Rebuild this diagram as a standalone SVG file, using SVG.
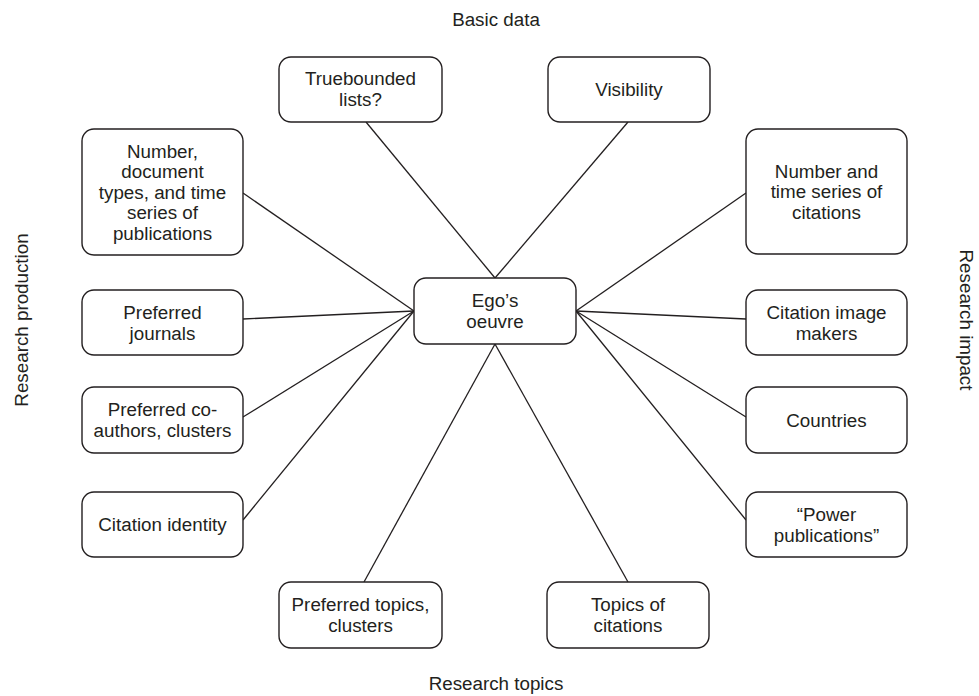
<svg xmlns="http://www.w3.org/2000/svg" width="979" height="696" viewBox="0 0 979 696">
<style>
.box{fill:#fff;stroke:#231f20;stroke-width:1.4}
.t{font-family:"Liberation Sans",Arial,sans-serif;font-size:18.8px;fill:#231f20;text-anchor:middle}
.c line{stroke:#231f20;stroke-width:1.3}
</style>
<rect width="979" height="696" fill="#fff"/>
<g class="c" id="connectors">
<line x1="495" y1="278" x2="366" y2="122"/>
<line x1="495" y1="278" x2="628" y2="122"/>
<line x1="414" y1="311" x2="243" y2="193"/>
<line x1="414" y1="311" x2="243" y2="319"/>
<line x1="414" y1="311" x2="243" y2="417"/>
<line x1="414" y1="311" x2="243" y2="520"/>
<line x1="576" y1="311" x2="746" y2="193"/>
<line x1="576" y1="311" x2="746" y2="319"/>
<line x1="576" y1="311" x2="746" y2="417"/>
<line x1="576" y1="311" x2="746" y2="520"/>
<line x1="495" y1="344" x2="364" y2="582"/>
<line x1="495" y1="344" x2="628" y2="582"/>
</g>
<g id="center"><rect class="box" x="414" y="278" width="162" height="66" rx="12"/><text class="t" x="495" y="307">Ego’s</text><text class="t" x="495" y="327.5">oeuvre</text></g>
<g id="truebounded"><rect class="box" x="279" y="57" width="163" height="65" rx="12"/><text class="t" x="360.5" y="85">Truebounded</text><text class="t" x="360.5" y="105.5">lists?</text></g>
<g id="visibility"><rect class="box" x="548" y="57" width="162" height="65" rx="12"/><text class="t" x="629" y="96">Visibility</text></g>
<g id="number-pubs"><rect class="box" x="82" y="129" width="161" height="126" rx="12"/><text class="t" x="162.5" y="157.5">Number,</text><text class="t" x="162.5" y="178">document</text><text class="t" x="162.5" y="198.5">types, and time</text><text class="t" x="162.5" y="219">series of</text><text class="t" x="162.5" y="239.5">publications</text></g>
<g id="journals"><rect class="box" x="82" y="290" width="161" height="65" rx="12"/><text class="t" x="162.5" y="319">Preferred</text><text class="t" x="162.5" y="339.5">journals</text></g>
<g id="coauthors"><rect class="box" x="82" y="387" width="161" height="66" rx="12"/><text class="t" x="162.5" y="416">Preferred co-</text><text class="t" x="162.5" y="436.5">authors, clusters</text></g>
<g id="citation-identity"><rect class="box" x="82" y="492" width="161" height="65" rx="12"/><text class="t" x="162.5" y="531">Citation identity</text></g>
<g id="number-cites"><rect class="box" x="746" y="129" width="161" height="125" rx="12"/><text class="t" x="826.5" y="177.5">Number and</text><text class="t" x="826.5" y="198">time series of</text><text class="t" x="826.5" y="218.5">citations</text></g>
<g id="image-makers"><rect class="box" x="746" y="290" width="161" height="65" rx="12"/><text class="t" x="826.5" y="319">Citation image</text><text class="t" x="826.5" y="339.5">makers</text></g>
<g id="countries"><rect class="box" x="746" y="387" width="161" height="66" rx="12"/><text class="t" x="826.5" y="426.5">Countries</text></g>
<g id="power"><rect class="box" x="746" y="492" width="161" height="65" rx="12"/><text class="t" x="826.5" y="521">“Power</text><text class="t" x="826.5" y="541.5">publications”</text></g>
<g id="pref-topics"><rect class="box" x="279" y="582" width="163" height="66" rx="12"/><text class="t" x="360.5" y="611">Preferred topics,</text><text class="t" x="360.5" y="631.5">clusters</text></g>
<g id="topics-cites"><rect class="box" x="547" y="582" width="162" height="66" rx="12"/><text class="t" x="628" y="611">Topics of</text><text class="t" x="628" y="631.5">citations</text></g>
<g id="labels">
<text class="t" x="496" y="26">Basic data</text>
<text class="t" x="496" y="690">Research topics</text>
<text class="t" transform="translate(28,320) rotate(-90)">Research production</text>
<text class="t" transform="translate(960,320) rotate(90)">Research impact</text>
</g>
</svg>
